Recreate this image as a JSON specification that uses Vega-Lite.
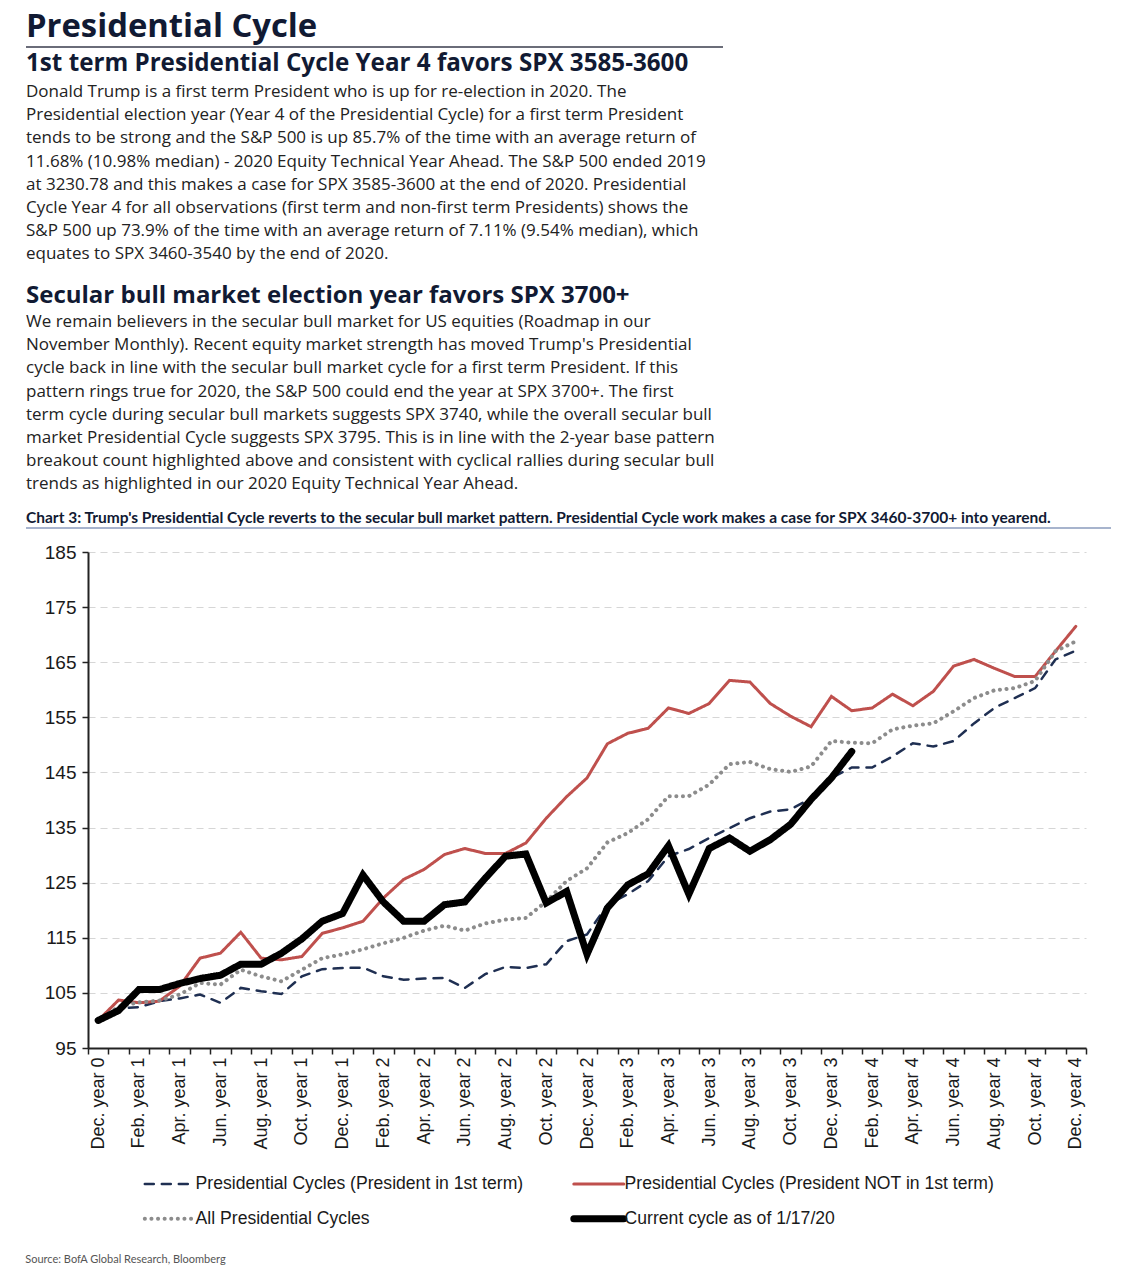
{
  "$schema": "https://vega.github.io/schema/vega-lite/v6.json",
  "padding": {"left": 25, "top": 10, "right": 5, "bottom": 5},
  "background": "white",
  "title": {"text": "Source: BofA Global Research, Bloomberg", "orient": "bottom", "anchor": "start", "font": "Lato", "fontSize": 11, "fontWeight": "normal", "color": "#555555", "offset": 21},
  "columns": 1,
  "align": "none",
  "spacing": 0,
  "resolve": {"scale": {"color": "independent", "strokeDash": "independent"}},
  "concat": [
    {
      "width": 697, "height": 4,
      "title": {"text": "Presidential Cycle", "anchor": "start", "font": "Open Sans", "fontSize": 32.8, "fontWeight": "bold", "color": "#111a33", "offset": 3},
      "view": {"stroke": "#3a3d4d", "strokeWidth": 1.5, "strokeDash": [697, 3000], "fill": null},
      "data": {"values": []},
      "mark": "rule",
      "encoding": {}
    },
    {
      "width": 697, "height": 20,
      "title": {
        "text": "1st term Presidential  Cycle Year 4 favors SPX 3585-3600",
        "subtitle": [
          "Donald Trump is a first term President who is up for re-election in 2020. The",
          "Presidential election year (Year 4 of the Presidential Cycle) for a first term President",
          "tends to be strong and the S&P 500 is up 85.7% of the time with an average return of",
          "11.68% (10.98% median) - 2020 Equity Technical Year Ahead. The S&P 500 ended 2019",
          "at 3230.78 and this makes a case for SPX 3585-3600 at the end of 2020. Presidential",
          "Cycle Year 4 for all observations (first term and non-first term Presidents) shows the",
          "S&P 500 up 73.9% of the time with an average return of 7.11% (9.54% median), which",
          "equates to SPX 3460-3540 by the end of 2020."
        ],
        "anchor": "start", "font": "Open Sans", "fontSize": 24.2, "fontWeight": "bold", "color": "#111a33",
        "subtitleFont": "Open Sans", "subtitleFontSize": 17, "subtitleColor": "#222222", "subtitleLineHeight": 23.1, "subtitlePadding": 8, "offset": 2
      },
      "view": {"stroke": null},
      "data": {"values": []},
      "mark": "rule",
      "encoding": {}
    },
    {
      "width": 697, "height": 15,
      "title": {
        "text": "Secular bull market election year favors SPX 3700+",
        "subtitle": [
          "We remain believers in the secular bull market for US equities (Roadmap in our",
          "November Monthly). Recent equity market strength has moved Trump's Presidential",
          "cycle back in line with the secular bull market cycle for a first term President. If this",
          "pattern rings true for 2020, the S&P 500 could end the year at SPX 3700+. The first",
          "term cycle during secular bull markets suggests SPX 3740, while the overall secular bull",
          "market Presidential Cycle suggests SPX 3795. This is in line with the 2-year base pattern",
          "breakout count highlighted above and consistent with cyclical rallies during secular bull",
          "trends as highlighted in our 2020 Equity Technical Year Ahead."
        ],
        "anchor": "start", "font": "Open Sans", "fontSize": 24, "fontWeight": "bold", "color": "#111a33",
        "subtitleFont": "Open Sans", "subtitleFontSize": 17, "subtitleColor": "#222222", "subtitleLineHeight": 23.1, "subtitlePadding": 6, "offset": 2
      },
      "view": {"stroke": null},
      "data": {"values": []},
      "mark": "rule",
      "encoding": {}
    },
    {
      "width": 1085, "height": 14,
      "title": {"text": "Chart 3: Trump's Presidential Cycle reverts to the secular bull market pattern. Presidential Cycle work makes a case for SPX 3460-3700+  into yearend.", "anchor": "start", "font": "Lato", "fontSize": 15.5, "fontWeight": "bold", "color": "#111a33", "offset": 2},
      "view": {"stroke": "#8a9bbd", "strokeWidth": 1.5, "strokeDash": [1085, 5000], "fill": null},
      "data": {"values": []},
      "mark": "rule",
      "encoding": {}
    },
    {
      "spacing": 0,
      "resolve": {"scale": {"color": "independent", "strokeDash": "independent"}},
      "hconcat": [
        {
          "width": 1, "height": 496,
          "view": {"stroke": null},
          "data": {"values": []},
          "mark": "rule",
          "encoding": {}
        },
        {
          "width": 998, "height": 496,
          "view": {"stroke": null},
          "data": {"values": [
            {"month": "Dec. year 0", "first": 100, "notFirst": 100, "all": 100, "current": 100},
            {"month": "Jan. year 1", "first": 102.2, "notFirst": 103.7, "all": 102.5, "current": 101.8},
            {"month": "Feb. year 1", "first": 102.4, "notFirst": 103.2, "all": 103.3, "current": 105.6},
            {"month": "Mar. year 1", "first": 103.5, "notFirst": 103.5, "all": 103.6, "current": 105.6},
            {"month": "Apr. year 1", "first": 104.0, "notFirst": 106.2, "all": 104.7, "current": 106.7},
            {"month": "May year 1", "first": 104.7, "notFirst": 111.3, "all": 106.8, "current": 107.6},
            {"month": "Jun. year 1", "first": 103.2, "notFirst": 112.2, "all": 106.5, "current": 108.2},
            {"month": "Jul. year 1", "first": 105.9, "notFirst": 116.0, "all": 109.2, "current": 110.2},
            {"month": "Aug. year 1", "first": 105.3, "notFirst": 111.3, "all": 108.0, "current": 110.2},
            {"month": "Sep. year 1", "first": 104.8, "notFirst": 111.0, "all": 107.1, "current": 112.2},
            {"month": "Oct. year 1", "first": 108.0, "notFirst": 111.6, "all": 109.2, "current": 114.8},
            {"month": "Nov. year 1", "first": 109.3, "notFirst": 115.8, "all": 111.3, "current": 118.0},
            {"month": "Dec. year 1", "first": 109.5, "notFirst": 116.8, "all": 112.0, "current": 119.4},
            {"month": "Jan. year 2", "first": 109.6, "notFirst": 118.0, "all": 112.9, "current": 126.4},
            {"month": "Feb. year 2", "first": 108.0, "notFirst": 122.2, "all": 114.0, "current": 121.5},
            {"month": "Mar. year 2", "first": 107.4, "notFirst": 125.6, "all": 115.0, "current": 118.0},
            {"month": "Apr. year 2", "first": 107.6, "notFirst": 127.4, "all": 116.3, "current": 118.0},
            {"month": "May year 2", "first": 107.7, "notFirst": 130.1, "all": 117.2, "current": 121.0},
            {"month": "Jun. year 2", "first": 105.9, "notFirst": 131.2, "all": 116.3, "current": 121.5},
            {"month": "Jul. year 2", "first": 108.4, "notFirst": 130.3, "all": 117.6, "current": 125.8},
            {"month": "Aug. year 2", "first": 109.7, "notFirst": 130.3, "all": 118.3, "current": 129.8},
            {"month": "Sep. year 2", "first": 109.5, "notFirst": 132.2, "all": 118.6, "current": 130.2},
            {"month": "Oct. year 2", "first": 110.2, "notFirst": 136.7, "all": 121.6, "current": 121.3},
            {"month": "Nov. year 2", "first": 114.4, "notFirst": 140.6, "all": 125.3, "current": 123.4},
            {"month": "Dec. year 2", "first": 115.6, "notFirst": 144.0, "all": 127.6, "current": 112.0},
            {"month": "Jan. year 3", "first": 121.0, "notFirst": 150.2, "all": 132.3, "current": 120.4},
            {"month": "Feb. year 3", "first": 122.9, "notFirst": 152.1, "all": 134.0, "current": 124.6},
            {"month": "Mar. year 3", "first": 125.3, "notFirst": 153.0, "all": 136.5, "current": 126.6},
            {"month": "Apr. year 3", "first": 129.8, "notFirst": 156.7, "all": 140.7, "current": 131.7},
            {"month": "May year 3", "first": 131.1, "notFirst": 155.7, "all": 140.7, "current": 122.9},
            {"month": "Jun. year 3", "first": 133.1, "notFirst": 157.5, "all": 142.8, "current": 131.2},
            {"month": "Jul. year 3", "first": 134.9, "notFirst": 161.7, "all": 146.5, "current": 133.1},
            {"month": "Aug. year 3", "first": 136.7, "notFirst": 161.4, "all": 146.9, "current": 130.7},
            {"month": "Sep. year 3", "first": 137.9, "notFirst": 157.5, "all": 145.6, "current": 132.8},
            {"month": "Oct. year 3", "first": 138.3, "notFirst": 155.2, "all": 145.1, "current": 135.6},
            {"month": "Nov. year 3", "first": 140.3, "notFirst": 153.3, "all": 146.1, "current": 140.1},
            {"month": "Dec. year 3", "first": 144.0, "notFirst": 158.8, "all": 150.7, "current": 144.0},
            {"month": "Jan. year 4", "first": 145.9, "notFirst": 156.2, "all": 150.4, "current": 148.8},
            {"month": "Feb. year 4", "first": 145.9, "notFirst": 156.7, "all": 150.3},
            {"month": "Mar. year 4", "first": 147.9, "notFirst": 159.2, "all": 152.8},
            {"month": "Apr. year 4", "first": 150.3, "notFirst": 157.1, "all": 153.5},
            {"month": "May year 4", "first": 149.7, "notFirst": 159.7, "all": 153.9},
            {"month": "Jun. year 4", "first": 150.7, "notFirst": 164.3, "all": 156.1},
            {"month": "Jul. year 4", "first": 153.9, "notFirst": 165.5, "all": 158.5},
            {"month": "Aug. year 4", "first": 156.7, "notFirst": 163.9, "all": 159.9},
            {"month": "Sep. year 4", "first": 158.5, "notFirst": 162.4, "all": 160.3},
            {"month": "Oct. year 4", "first": 160.3, "notFirst": 162.4, "all": 161.6},
            {"month": "Nov. year 4", "first": 165.5, "notFirst": 167.0, "all": 167.0},
            {"month": "Dec. year 4", "first": 167.1, "notFirst": 171.5, "all": 168.8}
          ]},
          "transform": [
            {"fold": ["first", "notFirst", "all", "current"], "as": ["series", "value"]},
            {"filter": "isValid(datum.value)"}
          ],
          "mark": {"type": "line", "strokeCap": "round"},
          "encoding": {
            "x": {
              "field": "month", "type": "ordinal", "sort": null, "bandPosition": 0.5,
              "scale": {"type": "band", "paddingInner": 0, "paddingOuter": 0},
              "axis": {
                "title": null, "labelAngle": -90, "labelFont": "Liberation Sans", "labelFontSize": 18, "labelColor": "#1a1a1a",
                "labelPadding": 3, "tickBand": "extent", "tickSize": 6, "tickColor": "#222222", "tickWidth": 1.5,
                "domainColor": "#222222", "domainWidth": 2, "labelOverlap": false, "grid": false,
                "labelExpr": "test(/^(Jan|Mar|May|Jul|Sep|Nov)/, datum.value) ? '' : datum.value"
              }
            },
            "y": {
              "field": "value", "type": "quantitative",
              "scale": {"domain": [95, 185], "nice": false, "zero": false},
              "axis": {
                "title": null, "values": [95, 105, 115, 125, 135, 145, 155, 165, 175, 185],
                "labelFont": "Liberation Sans", "labelFontSize": 19, "labelColor": "#1a1a1a", "labelPadding": 6,
                "tickSize": 6, "tickColor": "#222222", "tickWidth": 1.5, "domainColor": "#222222", "domainWidth": 2,
                "grid": true, "gridColor": "#d6d6d6", "gridDash": [7, 5], "gridWidth": 1.2,
                "minExtent": 61, "maxExtent": 61
              }
            },
            "strokeWidth": {
              "condition": [
                {"test": "datum.series == 'current'", "value": 7},
                {"test": "datum.series == 'all'", "value": 4},
                {"test": "datum.series == 'notFirst'", "value": 3}
              ],
              "value": 2.5
            },
            "color": {
              "field": "series", "type": "nominal",
              "scale": {"domain": ["first", "notFirst", "all", "current"], "range": ["#1f2f52", "#bf504d", "#8c8c8c", "#000000"]},
              "legend": {
                "title": null, "orient": "none", "direction": "horizontal", "legendX": 73, "legendY": 623, "columns": 2, "columnPadding": 35, "rowPadding": 11,
                "symbolType": "stroke", "symbolSize": 2500, "labelOffset": 17, "labelLimit": 0,
                "labelFont": "Liberation Sans", "labelFontSize": 17.6, "labelColor": "#1a1a1a",
                "labelExpr": "datum.value == 'first' ? 'Presidential Cycles (President in 1st term)' : datum.value == 'notFirst' ? 'Presidential Cycles (President NOT in 1st term)' : datum.value == 'all' ? 'All Presidential Cycles' : 'Current cycle as of 1/17/20'",
                "encode": {"symbols": {"update": {"strokeCap": {"value": "round"}, "strokeWidth": {"signal": "datum.value == 'current' ? 7 : datum.value == 'all' ? 4 : datum.value == 'notFirst' ? 3 : 2.5"}}}}
              }
            },
            "strokeDash": {
              "field": "series", "type": "nominal",
              "scale": {"domain": ["first", "notFirst", "all", "current"], "range": [[9, 8], [1, 0], [0.1, 6.5], [1, 0]]},
              "legend": {
                "title": null, "orient": "none", "direction": "horizontal", "legendX": 73, "legendY": 623, "columns": 2, "columnPadding": 35, "rowPadding": 11,
                "symbolType": "stroke", "symbolSize": 2500, "labelOffset": 17, "labelLimit": 0,
                "labelFont": "Liberation Sans", "labelFontSize": 17.6, "labelColor": "#1a1a1a",
                "labelExpr": "datum.value == 'first' ? 'Presidential Cycles (President in 1st term)' : datum.value == 'notFirst' ? 'Presidential Cycles (President NOT in 1st term)' : datum.value == 'all' ? 'All Presidential Cycles' : 'Current cycle as of 1/17/20'",
                "encode": {"symbols": {"update": {"strokeCap": {"value": "round"}, "strokeWidth": {"signal": "datum.value == 'current' ? 7 : datum.value == 'all' ? 4 : datum.value == 'notFirst' ? 3 : 2.5"}}}}
              }
            }
          }
        }
      ]
    }
  ],
  "config": {
    "view": {"stroke": null}
  }
}
